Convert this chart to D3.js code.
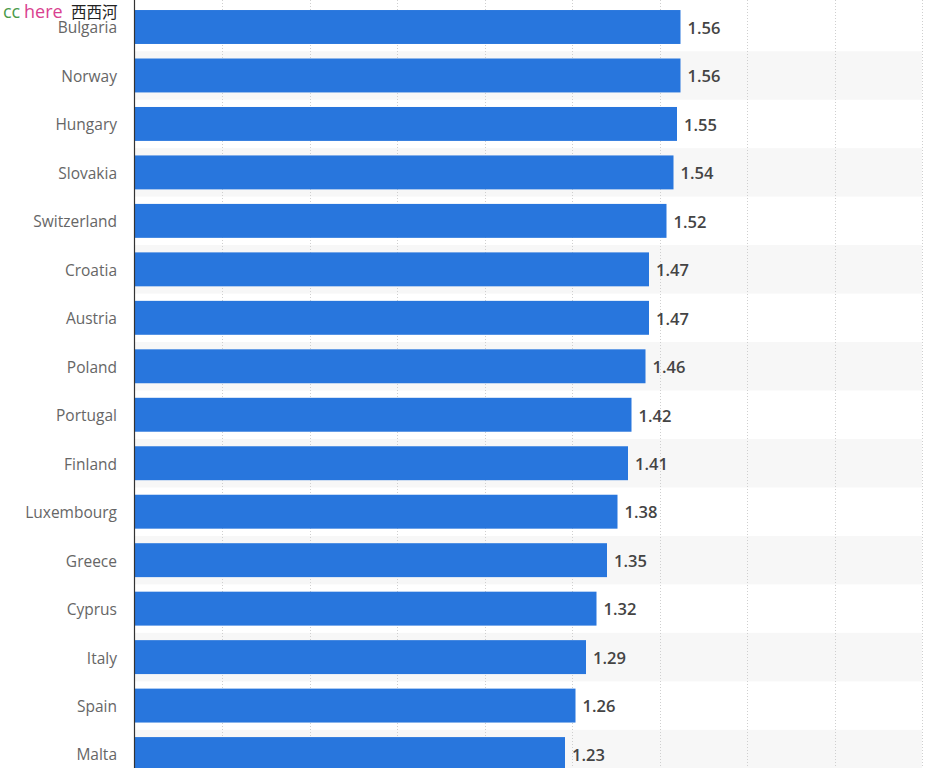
<!DOCTYPE html>
<html><head><meta charset="utf-8">
<script src="https://cdn.jsdelivr.net/npm/d3@7"></script>
<style>
html,body{margin:0;padding:0;background:#fff;}
svg{display:block;}
</style></head>
<body>
<svg id="chart" width="932" height="768"></svg>
<script>
const countries = ["Bulgaria","Norway","Hungary","Slovakia","Switzerland","Croatia","Austria","Poland","Portugal","Finland","Luxembourg","Greece","Cyprus","Italy","Spain","Malta"];
const values = [1.56,1.56,1.55,1.54,1.52,1.47,1.47,1.46,1.42,1.41,1.38,1.35,1.32,1.29,1.26,1.23];
const gridTicks = [0.25,0.5,0.75,1,1.25,1.5,1.75,2,2.25];

const svg = d3.select("#chart");
const W = 932, H = 768;
const x = d3.scaleLinear().domain([0, 2.25]).range([134.5, 922]);
const pitch = 48.47;
const y = d3.scaleBand().domain(countries).range([27 - pitch/2, 27 + pitch*15 + pitch/2]).paddingInner(0.3).paddingOuter(0.15);

// stripes
svg.append("g").selectAll("rect").data(countries.filter((d,i)=>i%2===1)).join("rect")
  .attr("x", x(0)).attr("width", x(2.25)-x(0))
  .attr("y", d => y(d) - y.step()*y.paddingInner()/2)
  .attr("height", y.step())
  .attr("fill", "#f7f7f7");

// gridlines
svg.append("g").selectAll("line").data(gridTicks).join("line")
  .attr("x1", d => Math.round(x(d))+0.5).attr("x2", d => Math.round(x(d))+0.5)
  .attr("y1", 0).attr("y2", H)
  .attr("stroke", "#cfcfcf").attr("stroke-width", 1).attr("stroke-dasharray", "1,2");

// bars
svg.append("g").selectAll("rect").data(countries).join("rect")
  .attr("x", x(0)+0.5)
  .attr("y", d => y(d))
  .attr("width", (d,i) => x(values[i]) - x(0) - 0.5)
  .attr("height", y.bandwidth())
  .attr("fill", "#2876dd");

// axis line
svg.append("line").attr("x1", 134.5).attr("x2", 134.5).attr("y1", 0).attr("y2", H)
  .attr("stroke", "#333").attr("stroke-width", 1.2);

// category labels
svg.append("g").selectAll("text").data(countries).join("text")
  .attr("x", 117).attr("y", d => y(d) + y.bandwidth()/2 + 1)
  .attr("dy", "0.35em").attr("text-anchor", "end")
  .attr("font-family", "'Open Sans', sans-serif").attr("font-size", 15.5)
  .attr("fill", "#666").text(d => d);

// value labels
svg.append("g").selectAll("text").data(countries).join("text")
  .attr("x", (d,i) => x(values[i]) + 7).attr("y", d => y(d) + y.bandwidth()/2 + 1)
  .attr("dy", "0.35em")
  .attr("font-family", "'Open Sans', sans-serif").attr("font-size", 16.5).attr("font-weight", 600)
  .attr("fill", "#444").text((d,i) => values[i].toFixed(2));

// watermark
const wm = svg.append("g");
wm.append("text").attr("x", 3).attr("y", 17.5).attr("font-family", "'Open Sans', sans-serif").attr("font-size", 18).attr("fill", "#4a9a4a").text("cc");
wm.append("text").attr("x", 24).attr("y", 17.5).attr("font-family", "'Open Sans', sans-serif").attr("font-size", 18).attr("fill", "#d9418f").text("here");
wm.append("text").attr("x", 71).attr("y", 17.5).attr("font-family", "'Noto Sans CJK SC', sans-serif").attr("font-size", 15.5).attr("fill", "#222").text("西西河");
</script>
</body></html>
